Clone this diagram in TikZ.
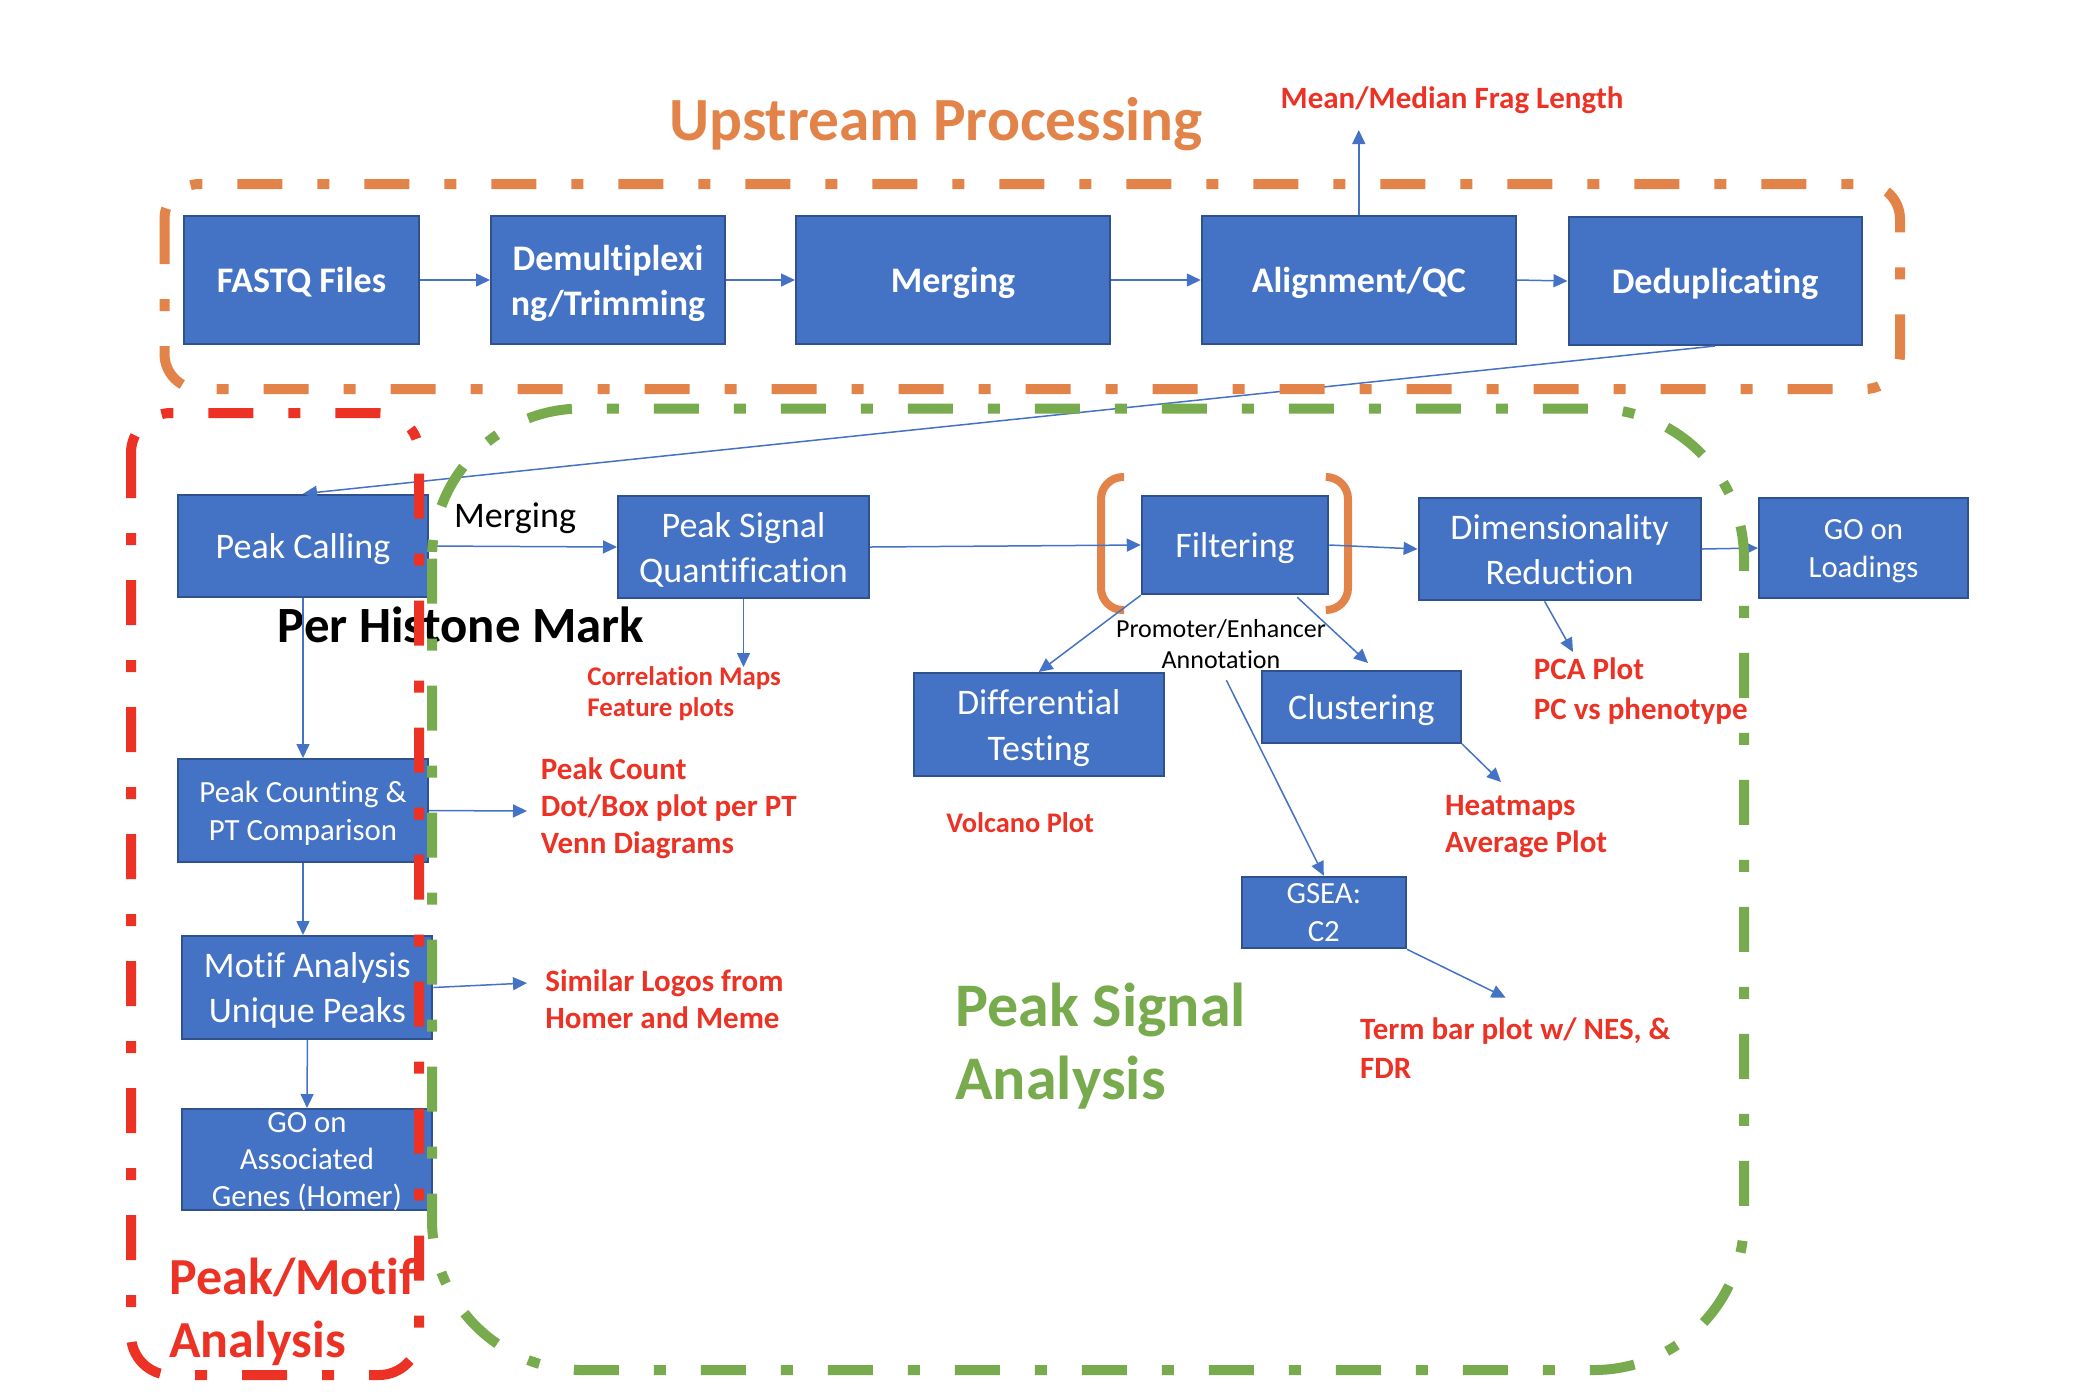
\documentclass[tikz,border=0pt]{standalone}
\usepackage{fontspec}
\setmainfont{Carlito}[Ligatures={NoCommon}]
\usetikzlibrary{arrows.meta}
\usetikzlibrary{calc}

\definecolor{boxblue}{RGB}{68,114,196}
\definecolor{boxedge}{RGB}{47,82,143}
\definecolor{orangec}{RGB}{226,132,74}
\definecolor{redc}{RGB}{236,50,36}
\definecolor{greenc}{RGB}{120,170,78}

\newcommand{\fsz}[2]{\fontsize{#1}{#2}\selectfont}

\tikzset{
  box/.style={draw=boxedge, line width=1pt, fill=boxblue, text=white, inner sep=0pt,
    align=center, font=\fsz{18}{22.5}, text depth=0pt},
  bbox/.style={box, font=\bfseries\fsz{18}{22.5}},
  sbox/.style={box, font=\fsz{15.4}{19}},
  flow/.style={draw=boxblue, line width=0.75pt, -{Triangle[length=7pt,width=6.5pt]}},
  note/.style={text=redc, font=\bfseries\fsz{15.5}{18.5}, align=left, anchor=west, inner sep=0pt},
  region/.style={line width=5pt, dash pattern=on 22.5pt off 17.5pt on 6pt off 17.5pt},
  bracket/.style={draw=orangec, line width=4pt, rounded corners=11pt}
}

\begin{document}
\begin{tikzpicture}[x=0.5pt,y=-0.5pt]
\useasboundingbox (0,0) rectangle (2076,1394);

% titre
\node[font=\bfseries\fsz{30.7}{36}, text=orangec] (uptitle) at (936,124) {Upstream Processing};
\node[note, anchor=center] (meanlbl) at (1452,100) {Mean/Median Frag Length};

% upstream boxes
\node[bbox, minimum width=117.5pt, minimum height=64pt] (fastq) at (301.5,280) {FASTQ Files};
\node[bbox, minimum width=117pt, minimum height=64pt] (demux) at (608,280) {Demultiplexi\\ng/Trimming};
\node[bbox, minimum width=157pt, minimum height=64pt] (merge) at (953,280) {Merging};
\node[bbox, minimum width=157pt, minimum height=64pt] (align) at (1358.75,280) {Alignment/QC};
\node[bbox, minimum width=146.5pt, minimum height=64pt] (dedup) at (1715,281) {Deduplicating};
\coordinate (meantip) at (1358.75,130);

\draw[flow] (fastq.east) -- (demux.west);
\draw[flow] (demux.east) -- (merge.west);
\draw[flow] (merge.east) -- (align.west);
\draw[flow] (align.east) -- (dedup.west);
\draw[flow] (align.north) -- (meantip);

% peak signal row
\node[box, minimum width=125pt, minimum height=51.25pt] (pc) at (303,546) {Peak Calling};
\node[font=\fsz{18}{22.5}, inner sep=0pt] (mergelbl) at (515,518) {Merging};
\node[box, minimum width=125.5pt, minimum height=51.25pt] (psq) at (743.5,547) {Peak Signal\\Quantification};
\node[font=\bfseries\fsz{25.4}{28}, anchor=base, inner sep=0pt] (histone) at (461,642) {Per Histone Mark};
\node[note, font=\bfseries\fsz{13.45}{15.5}] (corr) at (587,693.5) {Correlation Maps\\Feature plots};
\coordinate (corrtip) at (743.5,667);

\node[box, minimum width=93.25pt, minimum height=49.25pt] (filt) at (1235,545) {Filtering};
\draw[bracket] (1124,477) -- (1101,477) -- (1101,610) -- (1124,610);
\draw[bracket] (1327,477) -- (1348,477) -- (1348,610) -- (1327,610);
\node[box, minimum width=141pt, minimum height=51.3pt] (dim) at (1559.6,549) {Dimensionality\\Reduction};
\node[sbox, minimum width=104.5pt, minimum height=50pt] (goload) at (1863.5,548) {GO on\\Loadings};
\node[note, font=\bfseries\fsz{15.5}{20}] (pca) at (1533.5,691) {PCA Plot\\PC vs phenotype};
\coordinate (pcatip) at (1573,652);

\node[font=\fsz{13}{15.5}, align=center, inner sep=0pt] (annot) at (1221,644.5) {Promoter/Enhancer\\Annotation};
\node[box, minimum width=125.25pt, minimum height=51.5pt, font=\fsz{18}{23}] (diff) at (1038.75,724.5) {Differential\\Testing};
\node[note, font=\bfseries\fsz{14.2}{17}] (volc) at (946,822.7) {Volcano Plot};
\node[box, minimum width=99.65pt, minimum height=35.85pt] (clust) at (1361.3,707) {Clustering};
\node[note] (heat) at (1444.7,826.5) {Heatmaps\\Average Plot};
\coordinate (clusttip) at (1368,663);
\coordinate (heattip) at (1501,782);
\node[sbox, minimum width=82.2pt, minimum height=35.8pt] (gsea) at (1323.8,912.5) {GSEA:\\C2};
\node[note, font=\bfseries\fsz{15.5}{19.5}] (term) at (1359.7,1048.5) {Term bar plot w/ NES, \&\\FDR};
\coordinate (termtip) at (1505.6,997.6);

\draw[flow] (dedup.south) -- (pc.north);
\draw[flow] (pc.east) -- (psq.west);
\draw[flow] (psq.east) -- (filt.west);
\draw[flow] (psq.south) -- (corrtip);
\draw[flow] (filt.east) -- (dim.west);
\draw[flow] (dim.east) -- (goload.west);
\draw[flow] ($(dim.south)+(-15,0)$) -- (pcatip);
\draw[flow] (filt.south west) -- (diff.north);
\draw[flow] ($(filt.south east)+(-32,2)$) -- (clusttip);
\draw[flow, shorten <=6pt] (annot.south) -- (gsea.north);
\draw[flow] (clust.south east) -- (heattip);
\draw[flow] (gsea.south east) -- (termtip);

% peak / motif column
\node[sbox, minimum width=125pt, minimum height=51.5pt] (pcount) at (303,810.5) {Peak Counting \&\\PT Comparison};
\node[note, font=\bfseries\fsz{15.5}{18.4}] (pcountlbl) at (540.5,808) {Peak Count\\Dot/Box plot per PT\\Venn Diagrams};
\coordinate (pcounttip) at (527,811);
\node[box, minimum width=125pt, minimum height=51.5pt] (motif) at (307.4,987.5) {Motif Analysis\\Unique Peaks};
\node[note] (logos) at (545,999) {Similar Logos from\\Homer and Meme};
\coordinate (logostip) at (527,983);
\node[sbox, minimum width=125pt, minimum height=50.3pt] (goassoc) at (307,1159.3) {};
\node[text=white, align=center, font=\fsz{15.4}{18.5}, inner sep=0pt, text depth=0pt]
  (goassoctxt) at (goassoc) {GO on\\Associated\\Genes (Homer)};

\draw[flow] (pc.south) -- (pcount.north);
\draw[flow] (pcount.east) -- (pcounttip);
\draw[flow] (pcount.south) -- (pcount.south |- motif.north);
\draw[flow] (motif.east) -- (logostip);
\draw[flow] (motif.south) -- (goassoc.north);

% labels
\node[note, font=\bfseries\fsz{26}{31.3}] (pmlbl) at (169,1312) {Peak/Motif\\Analysis};
\node[note, text=greenc, font=\bfseries\fsz{31}{36.7}] (pslbl) at (955,1046) {Peak Signal\\Analysis};

% regions
\draw[region, draw=orangec, rounded corners=17.5pt] (164.5,184) rectangle (1900,389);
\draw[region, draw=greenc, rounded corners=75pt] (432,408.5) rectangle (1744,1370);
\draw[region, draw=redc, rounded corners=20pt] (131,413) rectangle (419,1375);
\end{tikzpicture}
\end{document}
